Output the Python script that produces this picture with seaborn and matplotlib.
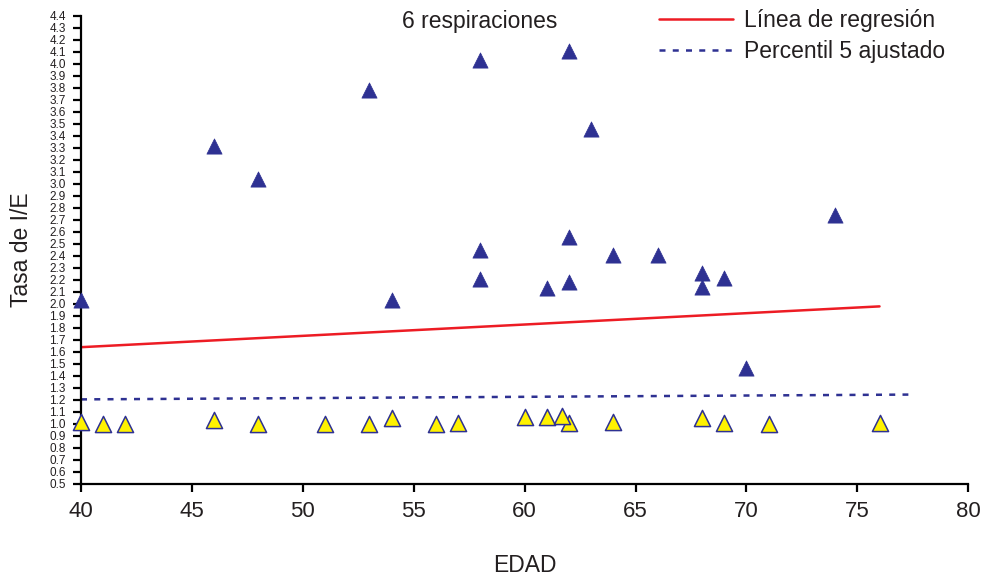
import numpy as np
import pandas as pd
import seaborn as sns
from matplotlib import pyplot as plt

# Datos
edad_alta = [40, 46, 48, 53, 54, 58, 58, 58, 61, 62, 62, 62, 63, 64, 66, 68, 68, 69, 70, 74]
tasa_alta = [2.03, 3.32, 3.04, 3.78, 2.03, 4.03, 2.45, 2.21, 2.13, 4.11, 2.56, 2.18,
             3.46, 2.41, 2.41, 2.26, 2.14, 2.22, 1.47, 2.74]

edad_baja = [40, 41, 42, 46, 48, 51, 53, 54, 56, 57, 60, 61, 62, 61.7, 64, 68, 69, 71, 76]
tasa_baja = [1.02, 1.0, 1.0, 1.03, 1.0, 1.0, 1.0, 1.05, 1.0, 1.01, 1.06, 1.06, 1.01, 1.07,
             1.02, 1.05, 1.01, 1.0, 1.01]

regresion_x = [40, 76]
regresion_y = [1.64, 1.98]
percentil_x = [40, 77.3]
percentil_y = [1.205, 1.245]

azul = "#2e3192"
rojo = "#ed1c24"
amarillo = "#fff200"
texto = "#231f20"

sns.set_style("white")
plt.rcParams["font.family"] = ["Liberation Sans", "DejaVu Sans"]

fig = plt.figure(figsize=(9.82, 5.77), dpi=100)
ax = fig.add_axes([0.0825, 0.1612, 0.9035, 0.8111])

alta = pd.DataFrame({"edad": edad_alta, "tasa": tasa_alta})
baja = pd.DataFrame({"edad": edad_baja, "tasa": tasa_baja})

sns.scatterplot(data=alta, x="edad", y="tasa", marker="^", s=120, color=azul,
                edgecolor=azul, linewidth=0.5, ax=ax, clip_on=False, zorder=3)
sns.scatterplot(data=baja, x="edad", y="tasa", marker="^", s=135, color=amarillo,
                edgecolor=azul, linewidth=1.1, ax=ax, clip_on=False, zorder=3)

sns.lineplot(x=regresion_x, y=regresion_y, color=rojo, linewidth=1.8, ax=ax,
             label="Línea de regresión", zorder=2)
sns.lineplot(x=percentil_x, y=percentil_y, color=azul, linewidth=1.8, ax=ax,
             label="Percentil 5 ajustado", zorder=2)
ax.lines[1].set_dashes((2.4, 2.9))

ax.set_xlim(40, 80)
ax.set_ylim(0.5, 4.4)
ax.set_xticks([40, 45, 50, 55, 60, 65, 70, 75, 80])
yt = np.round(np.arange(0.5, 4.401, 0.1), 1)
ax.set_yticks(yt)
ax.set_yticklabels([f"{v:.1f}" for v in yt])

for s in ["top", "right"]:
    ax.spines[s].set_visible(False)
for s in ["left", "bottom"]:
    ax.spines[s].set_color("black")
    ax.spines[s].set_linewidth(1.6)

ax.tick_params(axis="x", bottom=True, direction="out", length=6, width=1.6, color="black",
               labelsize=16, labelcolor=texto, pad=6)
ax.tick_params(axis="y", left=True, direction="out", length=6, width=1.6, color="black",
               labelsize=8.5, labelcolor=texto, pad=5)

ax.set_xlabel("EDAD", fontsize=16.5, color=texto, labelpad=23)
ax.set_ylabel("Tasa de I/E", fontsize=16.5, color=texto, labelpad=12)

ax.text(0.362, 0.989, "6 respiraciones", transform=ax.transAxes, fontsize=16.5,
        color=texto, va="center", ha="left")

ax.legend(loc="upper left", bbox_to_anchor=(0.652, 1.014), frameon=False,
          fontsize=16.5, handlelength=3.2, handletextpad=0.5, labelspacing=0.35,
          borderpad=0, borderaxespad=0, labelcolor=texto)

fig.savefig("out.png", dpi=100)
